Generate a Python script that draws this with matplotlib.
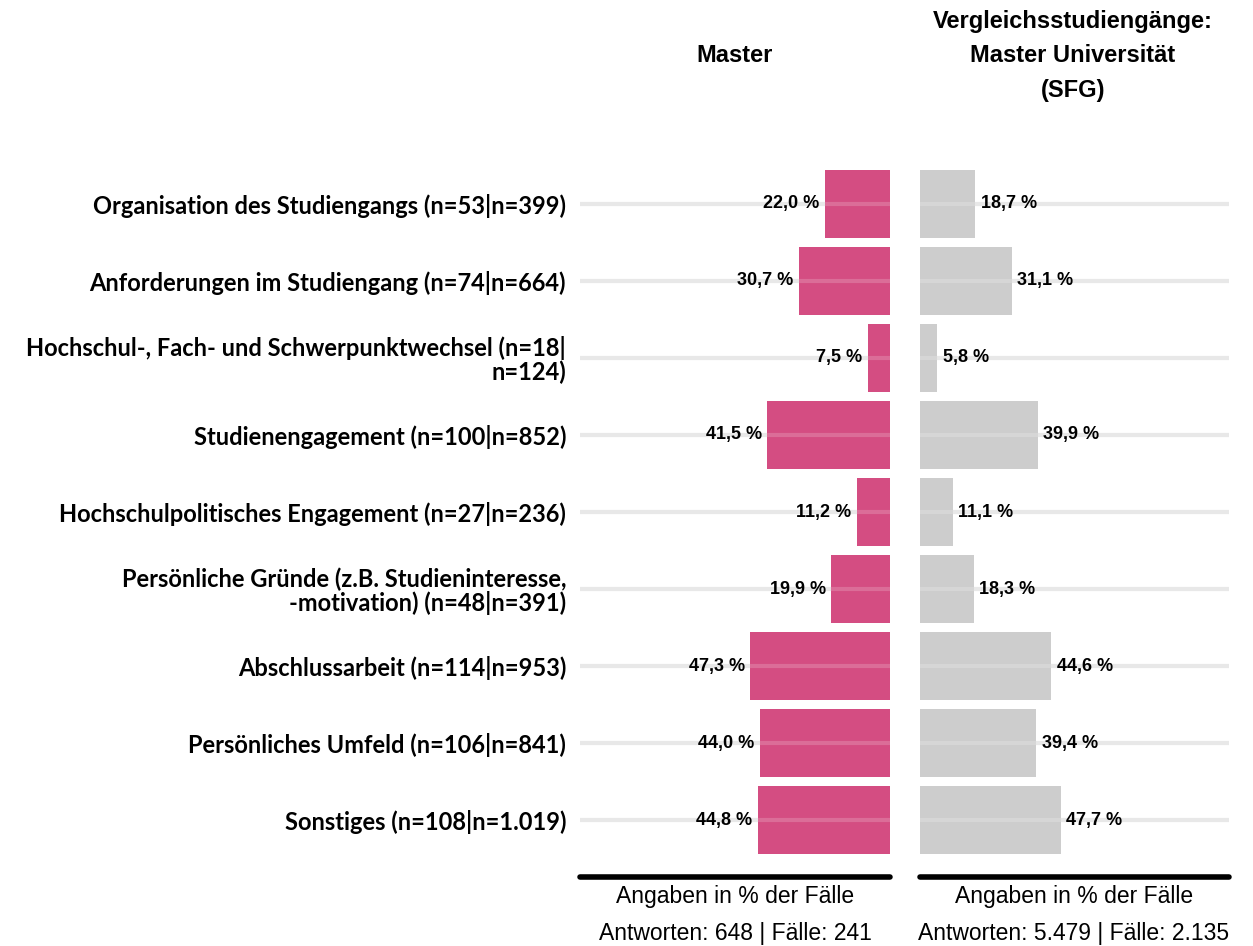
import matplotlib
matplotlib.use("Agg")
import matplotlib.pyplot as plt

categories = [
    "Organisation des Studiengangs (n=53|n=399)",
    "Anforderungen im Studiengang (n=74|n=664)",
    "Hochschul-, Fach- und Schwerpunktwechsel (n=18|\nn=124)",
    "Studienengagement (n=100|n=852)",
    "Hochschulpolitisches Engagement (n=27|n=236)",
    "Persönliche Gründe (z.B. Studieninteresse,\n-motivation) (n=48|n=391)",
    "Abschlussarbeit (n=114|n=953)",
    "Persönliches Umfeld (n=106|n=841)",
    "Sonstiges (n=108|n=1.019)",
]
master = [22.0, 30.7, 7.5, 41.5, 11.2, 19.9, 47.3, 44.0, 44.8]
sfg = [18.7, 31.1, 5.8, 39.9, 11.1, 18.3, 44.6, 39.4, 47.7]

title_left = "Master"
title_right = "Vergleichsstudiengänge:\nMaster Universität\n(SFG)"
footer_left = ["Angaben in % der Fälle", "Antworten: 648 | Fälle: 241"]
footer_right = ["Angaben in % der Fälle", "Antworten: 5.479 | Fälle: 2.135"]

sans = ["Liberation Sans", "DejaVu Sans"]

W, H = 1253, 946
fig = plt.figure(figsize=(W / 100, H / 100), dpi=100)

pink = "#d44d82"
grey = "#cdcdcd"

top_px, bot_px = 147, 877
ax_b = 1 - bot_px / H
ax_h = (bot_px - top_px) / H
axL = fig.add_axes([580 / W, ax_b, 310 / W, ax_h])
axR = fig.add_axes([920 / W, ax_b, 309 / W, ax_h])

y = list(range(len(categories)))
XMAX = 104.9

for ax, vals, color, side in [(axL, master, pink, "L"), (axR, sfg, grey, "R")]:
    ax.barh(y, vals, height=0.89, color=color, zorder=2)
    for yi in y:
        ax.axhline(yi, color="#e3e3e3", lw=3, zorder=1)
        ax.axhline(yi, color="#ffffff", lw=3, alpha=0.18, zorder=3)
    ax.set_xlim(0, XMAX)
    ax.set_ylim(len(categories) - 1 + 0.74, -0.74)
    if side == "L":
        ax.invert_xaxis()
    for s in ax.spines.values():
        s.set_visible(False)
    ax.set_xticks([])
    ax.tick_params(axis="y", length=0)
    for yi, v in zip(y, vals):
        lab = f"{v:.1f}".replace(".", ",") + " %"
        off, ha = (-4, "right") if side == "L" else (4, "left")
        ax.annotate(lab, (v, yi), xytext=(off, 0), textcoords="offset points",
                    ha=ha, va="center", fontsize=13, fontweight="bold",
                    family=sans, zorder=4)
    ax.plot([0, 1], [0, 0], transform=ax.transAxes, color="black", lw=4,
            solid_capstyle="round", clip_on=False, zorder=5)

axL.set_yticks(y)
axL.set_yticklabels(categories, fontsize=17, fontweight="bold", family=["Lato"],
                    linespacing=1.0)
axL.tick_params(axis="y", pad=10)
axR.set_yticks([])

def px(xp, yp):
    return xp / W, 1 - yp / H

fig.text(*px(735, 55), title_left, ha="center", va="center", fontsize=17,
         fontweight="bold", family=sans)
fig.text(*px(1073, 56), title_right, ha="center", va="center", fontsize=17,
         fontweight="bold", family=sans, linespacing=1.65)

for cx, lines in [(735, footer_left), (1074, footer_right)]:
    fig.text(*px(cx, 896), lines[0], ha="center", va="center", fontsize=16.5,
             family=sans)
    fig.text(*px(cx, 933), lines[1], ha="center", va="center", fontsize=16.5,
             family=sans)

fig.savefig("out.png", dpi=100)
